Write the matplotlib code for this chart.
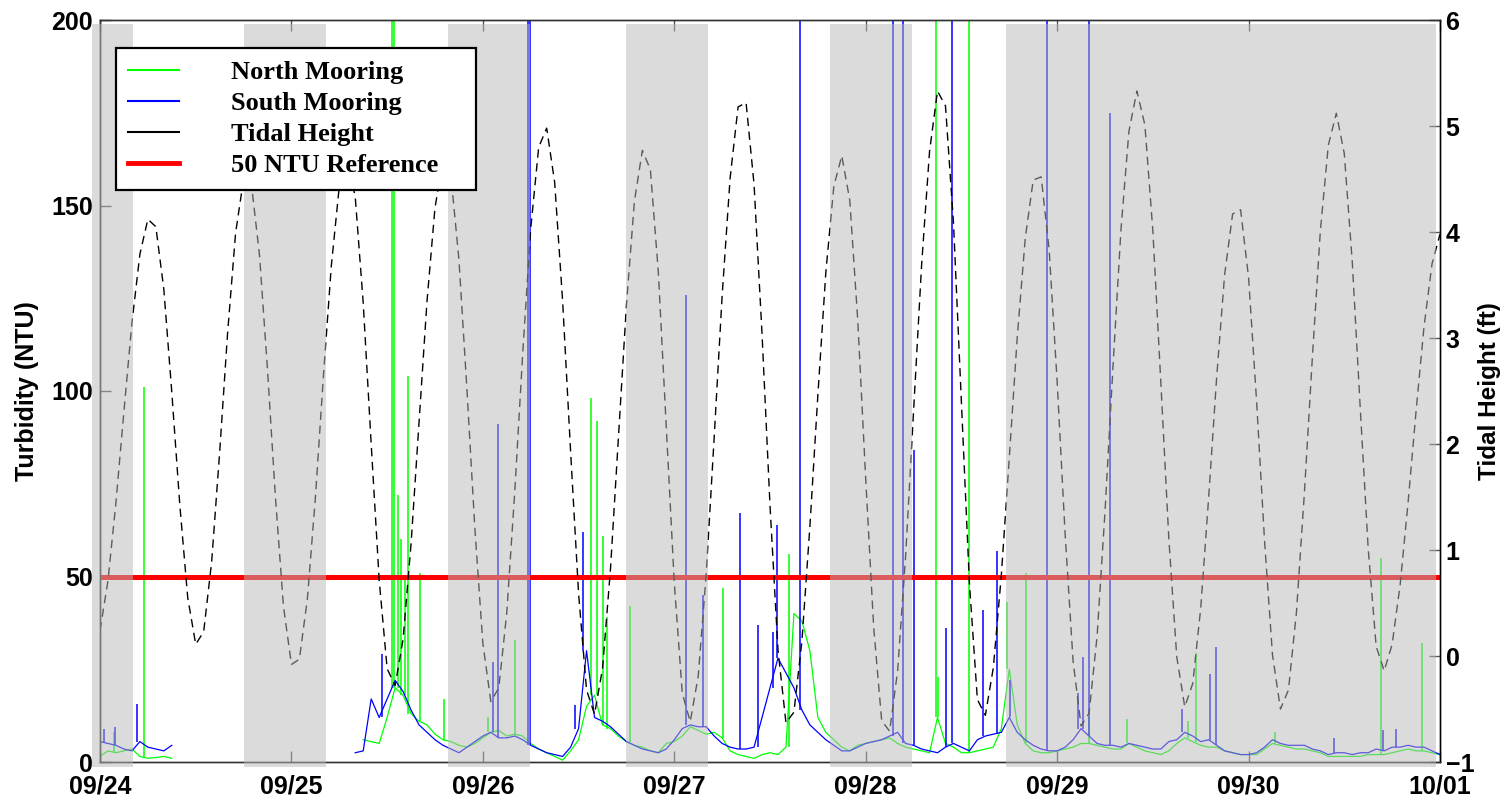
import numpy as np
import matplotlib
matplotlib.use("Agg")
import matplotlib.pyplot as plt
from matplotlib.lines import Line2D

nan = float("nan")

# time axis: hours after 09/24 00:00, hourly readings
day_labels = ["09/24", "09/25", "09/26", "09/27", "09/28", "09/29", "09/30", "10/01"]

tide_ft = [
    0.24, 0.71, 1.45, 2.31, 3.14, 3.79, 4.12, 4.05, 3.46, 2.49, 1.43, 0.55,
    0.11, 0.23, 0.89, 1.92, 3.05, 3.99, 4.50, 4.44, 3.78, 2.70, 1.49, 0.47,
    -0.08, -0.03, 0.54, 1.49, 2.63, 3.68, 4.43, 4.70, 4.33, 3.33, 2.00, 0.72,
    -0.12, -0.28, 0.16, 1.06, 2.20, 3.35, 4.23, 4.68, 4.53, 3.74, 2.52, 1.20,
    0.12, -0.43, -0.30, 0.41, 1.55, 2.86, 4.03, 4.80, 4.98, 4.47, 3.35, 1.93,
    0.59, -0.32, -0.55, -0.12, 0.82, 2.06, 3.31, 4.29, 4.77, 4.59, 3.62, 2.16,
    0.69, -0.35, -0.62, -0.19, 0.77, 2.06, 3.40, 4.51, 5.18, 5.22, 4.45, 3.04,
    1.42, 0.06, -0.63, -0.53, 0.14, 1.22, 2.46, 3.62, 4.43, 4.72, 4.30, 3.17,
    1.67, 0.27, -0.61, -0.71, -0.14, 0.94, 2.31, 3.68, 4.76, 5.33, 5.19, 4.09,
    2.39, 0.69, -0.41, -0.56, -0.11, 0.76, 1.87, 3.01, 3.94, 4.49, 4.52, 3.83,
    2.59, 1.15, -0.05, -0.66, -0.54, 0.18, 1.36, 2.73, 4.02, 4.95, 5.33, 5.01,
    4.01, 2.58, 1.11, -0.01, -0.48, -0.26, 0.45, 1.50, 2.63, 3.60, 4.17, 4.21,
    3.57, 2.41, 1.09, 0.01, -0.50, -0.32, 0.41, 1.54, 2.82, 4.01, 4.82, 5.12,
    4.74, 3.72, 2.34, 1.01, 0.09, -0.14, 0.11, 0.67, 1.45, 2.31, 3.11, 3.70,
    3.98,
]

north_ntu = (
    [1.5, 3.0, 2.5, 3.0, 3.5, 1.5, 1.0, 1.2, 1.5, 1.0]
    + [nan] * 23
    + [6, 5.5, 5.0, 12, 20, 18, 13, 11, 10, 7.5, 6, 5.5, 4.5, 4, 5, 6.5, 8, 8.5,
       7, 7.5, 7, 5, 3.5]
    + [2.5, 1.5, 0.5, 3, 6, 15, 18, 10, 9, 7, 5.5, 4.5, 4, 3, 2.5, 5, 5.5, 7,
       9.5, 8.5, 7.5, 8, 6.5, 3, 2, 1.5, 1.0, 2, 2.5, 2, 4, 40, 38, 30, 12, 8,
       6, 4, 3, 4.5, 5, 5.5, 6, 6.5, 5, 4, 3.5, 3, 2.5, 12]
    + [5, 4, 2.5, 2.5, 3, 3.5, 4, 9, 25, 10, 5, 3, 2.5, 2.5, 3, 3.5, 4, 5, 5,
       4.5, 4, 3.5, 3.5, 5, 4, 3, 2.5, 2, 3, 5, 6.5, 5.5, 4.5, 4, 4, 3, 2.5, 2,
       2, 2, 3.5, 5, 4.5, 4, 3.5, 3.5, 3, 2.5, 1.5, 1.5, 1.5, 1.5, 1.5, 2, 2,
       2, 2.5, 3, 3.5, 3, 3, 2.5, 2]
)

south_ntu = (
    [5.5, 5.0, 4.5, 3.5, 3.0, 5.5, 4.0, 3.5, 3.0, 4.5]
    + [nan] * 22
    + [2.5, 3.0, 17, 12, 17, 22, 19, 14, 10, 8, 6, 4.5, 3.5, 2.5, 4, 5.5, 7, 8,
       6.5, 6.5, 7, 6, 4.5, 3.5]
    + [2.5, 2.0, 1.5, 4, 9, 30, 12, 11, 9.5, 7.5, 5.5, 4.5, 3.5, 3, 2.5, 3.5, 6,
       9, 10, 9.5, 9.5, 7, 5, 4, 3.5, 3.5, 4, 12, 20, 28, 24, 20, 14, 10, 8, 6,
       4.5, 3, 3, 4, 5, 5.5, 6, 7, 8, 5, 4.5, 3.5, 3, 2.5]
    + [4, 5, 4, 3, 6, 7, 7.5, 8, 12, 8, 6, 4.5, 3.5, 3, 3, 4, 6, 9, 7, 5, 4.5,
       4.5, 4, 5, 4.5, 4, 3.5, 3.5, 5.5, 6, 8, 7, 5.5, 6, 4.5, 3, 2.5, 2, 2,
       2.5, 4, 6, 5, 4.5, 4.5, 4.5, 3.5, 3, 2, 2.5, 2.5, 2, 2.5, 2.5, 3.5, 3,
       4, 4, 4.5, 4, 4, 3, 2]
)

# short turbidity bursts (hour, NTU); values above 200 run off the top
north_spike_hr = [1.75, 5.5, 36.6, 36.9, 37.4, 37.8, 38.2, 38.6, 40.1, 43.1,
                  48.7, 52.0, 61.6, 62.3, 63.1, 63.6, 66.4, 78.1, 86.4, 104.8,
                  105.1, 108.9, 113.7, 116.1, 124.0, 128.7, 136.4, 137.4,
                  147.3, 160.6, 165.7]
north_spike_ntu = [8, 101, 230, 230, 72, 60, 50, 104, 51, 17,
                   12, 33, 98, 92, 61, 39, 42, 47, 56, 230,
                   23, 230, 43, 51, 12, 11.5, 11, 29.5,
                   8, 55, 32]
south_spike_hr = [0.5, 1.9, 4.6, 35.4, 49.3, 49.9, 53.6, 53.9, 59.6, 60.6,
                  73.5, 75.6, 80.2, 82.5, 84.4, 84.9, 87.8, 99.4, 100.7, 102.0,
                  106.1, 106.8, 110.7, 112.4, 114.1, 118.7, 122.6, 123.3,
                  124.0, 126.6, 135.6, 139.2, 139.9, 154.7, 160.8, 162.5]
south_spike_ntu = [9, 9.5, 15.6, 29, 27, 91, 230, 230, 15.4, 62,
                   126, 45, 67, 37, 35, 64, 230, 230, 230, 84,
                   36, 230, 41, 57, 22, 230, 18.5, 28.4,
                   230, 175, 14.2, 23.7, 31, 6.4, 8.6, 8.8]

reference_ntu = 50

# shaded periods (start hour, end hour)
shade_start = [-1.0, 18.05, 43.6, 65.9, 91.5, 113.6]
shade_end = [4.1, 28.3, 53.9, 76.2, 101.8, 167.5]

hours = np.arange(len(tide_ft))
north = np.array(north_ntu, dtype=float)
south = np.array(south_ntu, dtype=float)
assert len(north) == len(hours) and len(south) == len(hours)

plt.rcParams["font.family"] = ["Liberation Sans", "DejaVu Sans"]
plt.rcParams["font.weight"] = "bold"

fig = plt.figure(figsize=(15.05, 7.99), dpi=100)
ax = fig.add_axes([100 / 1505, 1 - 762 / 799, 1340 / 1505, 742 / 799])

GREEN = "#00ff00"
BLUE = "#0000ff"

ax.plot(hours, north, color=GREEN, lw=0.9, zorder=2)
n_idx = np.clip(np.round(north_spike_hr).astype(int), 0, len(hours) - 1)
ax.vlines(north_spike_hr, north[n_idx], north_spike_ntu, color=GREEN, lw=1.1, zorder=2)

ax.plot(hours, south, color=BLUE, lw=0.9, zorder=3)
s_idx = np.clip(np.round(south_spike_hr).astype(int), 0, len(hours) - 1)
ax.vlines(south_spike_hr, south[s_idx], south_spike_ntu, color=BLUE, lw=1.1, zorder=3)

ax.axhline(reference_ntu, color="red", lw=3.6, zorder=4)

ax.set_xlim(0, 168)
ax.set_ylim(0, 200)
ax.set_xticks(np.arange(0, 169, 24))
ax.set_xticklabels(day_labels)
ax.set_yticks([0, 50, 100, 150, 200])
ax.tick_params(axis="both", direction="in", length=8, width=1, labelsize=18,
               color="#555555", top=True)
ax.tick_params(axis="x", pad=9)
ax.tick_params(axis="y", pad=5)
ax.set_ylabel("Turbidity (NTU)", fontsize=18, fontweight="bold", labelpad=9)

ax2 = ax.twinx()
ax2.plot(hours, tide_ft, color="black", lw=1.0, dashes=(6, 4), zorder=2)
ax2.set_ylim(-1, 6)
ax2.set_yticks(range(-1, 7))
ax2.tick_params(axis="y", direction="in", length=8, width=1, labelsize=18, pad=4,
                color="#555555")
ax2.set_ylabel("Tidal Height (ft)", fontsize=17.5, fontweight="bold", labelpad=3)

for s, e in zip(shade_start, shade_end):
    ax2.axvspan(s, e, ymin=-0.0067, ymax=0.9946, facecolor="#b8b8b8", alpha=0.5,
                lw=0, zorder=3, clip_on=False)

for a in (ax, ax2):
    for sp in a.spines.values():
        sp.set_color("#333333")
        sp.set_linewidth(1.0)
ax2.spines["right"].set_color("black")

handles = [
    Line2D([], [], color=GREEN, lw=1.5),
    Line2D([], [], color=BLUE, lw=1.5),
    Line2D([], [], color="black", lw=1.5),
    Line2D([], [], color="red", lw=3.5),
]
labels = ["North Mooring", "South Mooring", "Tidal Height", "50 NTU Reference"]
leg = ax2.legend(handles, labels, loc="upper left", mode="expand",
                 bbox_to_anchor=(115.7 / 1505, 1 - 191.7 / 799, 360.3 / 1505, 144 / 799),
                 bbox_transform=fig.transFigure, borderaxespad=0,
                 prop={"family": "Liberation Serif", "weight": "bold", "size": 19},
                 frameon=True, fancybox=False, framealpha=1, edgecolor="black",
                 handlelength=1.9, handletextpad=2.0, labelspacing=0.29,
                 borderpad=0.48)
leg.get_frame().set_linewidth(1.6)
leg.set_zorder(10)

fig.savefig("out.png", dpi=100)
